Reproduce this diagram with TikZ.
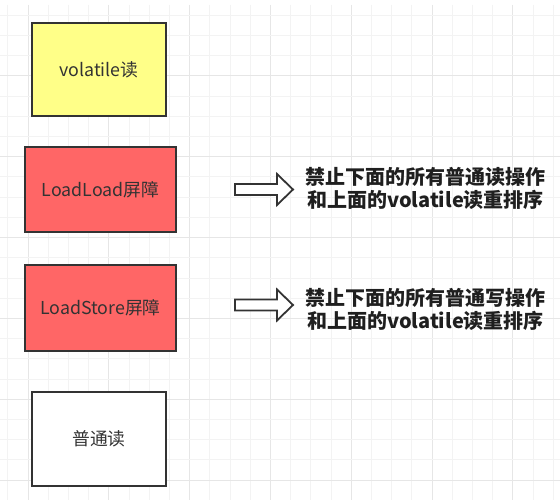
\documentclass[tikz,border=0pt]{standalone}
\usepackage{fontspec}
\newfontfamily\cjk{Noto Sans CJK SC}
\definecolor{gridminor}{HTML}{F3F3F3}
\definecolor{gridmajor}{HTML}{E6E6E6}
\definecolor{boxline}{HTML}{333333}
\definecolor{yellowfill}{HTML}{FFFF88}
\definecolor{redfill}{HTML}{FF6666}
\definecolor{txt}{HTML}{333333}
\tikzset{
  box/.style={draw=boxline, line width=2.6pt, inner sep=0pt, text=txt,
    font=\cjk\fontsize{17.8}{20}\selectfont},
  note/.style={align=center, inner sep=0pt, text=black!88,
    font=\cjk\bfseries\fontsize{20}{23.5}\selectfont},
  hollowarrow/.style={draw=boxline, line width=1.8pt, fill=white, line join=miter}
}
\begin{document}
\begin{tikzpicture}[x=1pt,y=-1pt]
\useasboundingbox (0,0) rectangle (560,500);
\fill[white] (0,0) rectangle (560,500);
% grid
\foreach \i in {0,...,27} {
  \pgfmathsetmacro\xx{7.8+20.2*\i}
  \pgfmathtruncatemacro\mm{mod(\i,4)}
  \ifnum\mm=1 \draw[gridmajor, line width=1pt] (\xx,5) -- (\xx,500);
  \else \draw[gridminor, line width=1pt] (\xx,5) -- (\xx,500); \fi
}
\foreach \i in {0,...,24} {
  \pgfmathsetmacro\yy{15.4+20.2*\i}
  \pgfmathtruncatemacro\mm{mod(\i,4)}
  \ifnum\mm=3 \draw[gridmajor, line width=1pt] (0,\yy) -- (560,\yy);
  \else \draw[gridminor, line width=1pt] (0,\yy) -- (560,\yy); \fi
}
% boxes
\node[box, fill=yellowfill, minimum width=134pt, minimum height=93pt] (vread) at (99,69.5) {volatile读};
\node[box, fill=redfill, minimum width=151pt, minimum height=85pt] (ll) at (100.5,189.5) {LoadLoad屏障};
\node[box, fill=redfill, minimum width=151pt, minimum height=86pt] (ls) at (100.5,308) {LoadStore屏障};
\node[box, fill=white, minimum width=134pt, minimum height=94pt] (nread) at (99,439) {普通读};
% arrows
\draw[hollowarrow] (235,184) -- (277,184) -- (277,174) -- (293,189.5) -- (277,205) -- (277,195) -- (235,195) -- cycle;
\draw[hollowarrow] (235,299.5) -- (277,299.5) -- (277,289.5) -- (293,305) -- (277,320.5) -- (277,310.5) -- (235,310.5) -- cycle;
% notes
\node[note] (n1) at (425.5,188.5) {禁止下面的所有普通读操作\\和上面的volatile读重排序};
\node[note] (n2) at (425.5,309.5) {禁止下面的所有普通写操作\\和上面的volatile读重排序};
\end{tikzpicture}
\end{document}
